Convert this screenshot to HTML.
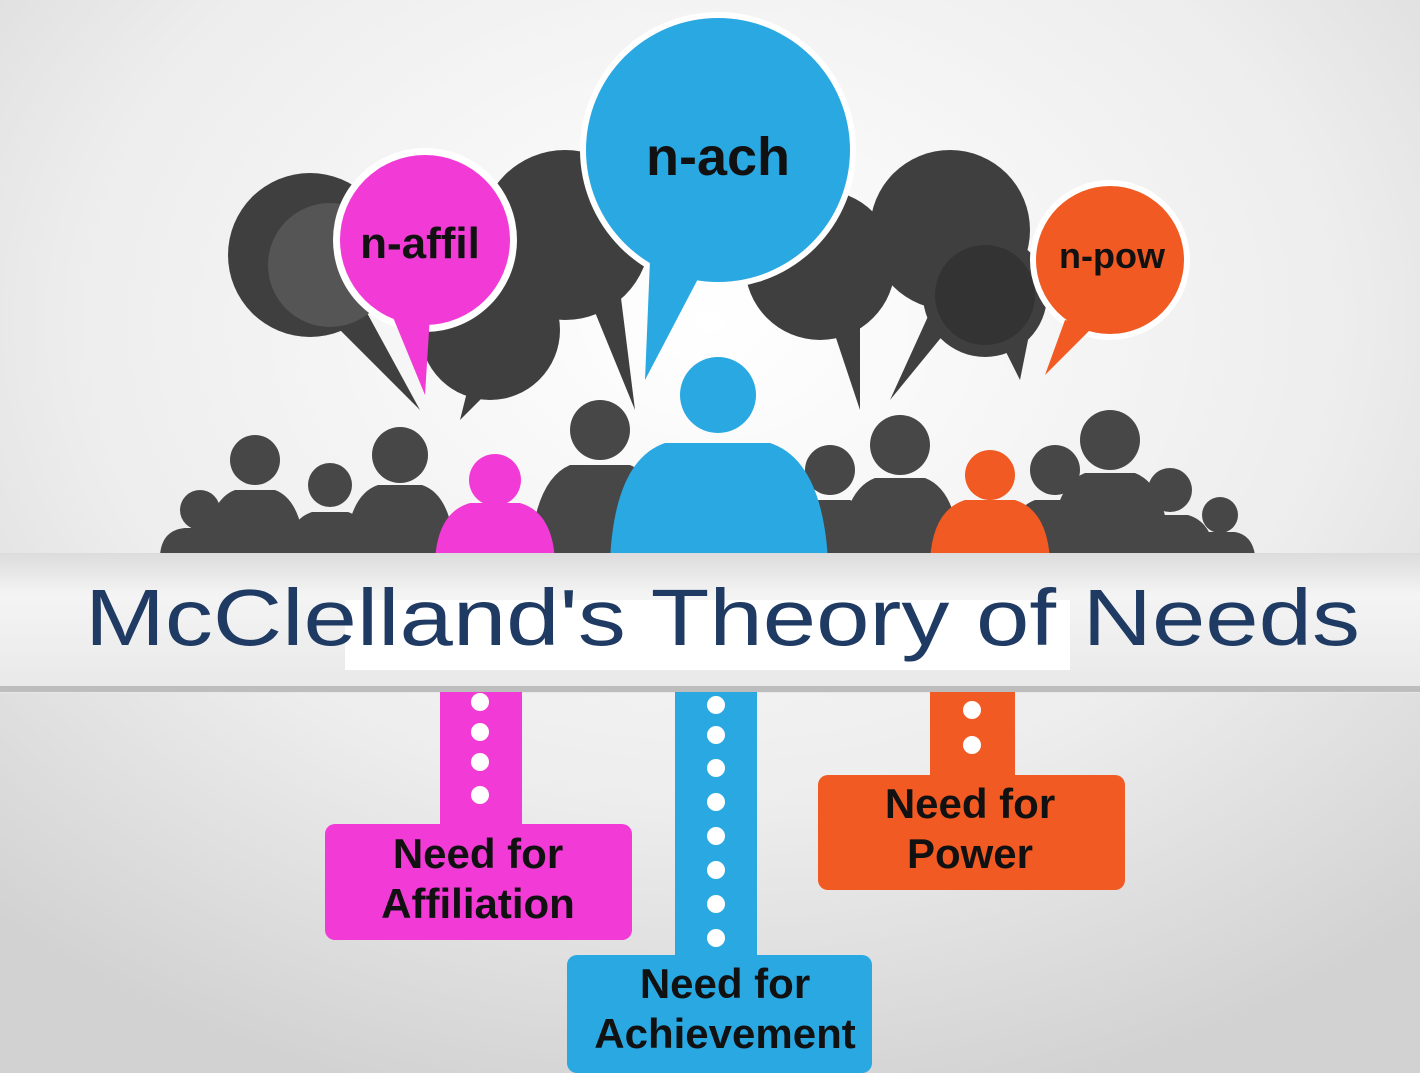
<!DOCTYPE html>
<html><head><meta charset="utf-8"><style>
html,body{margin:0;padding:0;width:1420px;height:1073px;overflow:hidden;}
svg{display:block}
text{font-family:"Liberation Sans",sans-serif;font-weight:bold}
</style></head><body>
<svg width="1420" height="1073" viewBox="0 0 1420 1073">
<defs>
<radialGradient id="bg" cx="50%" cy="30%" r="75%">
<stop offset="0" stop-color="#ffffff"/><stop offset="0.6" stop-color="#ededed"/><stop offset="1" stop-color="#d2d2d2"/>
</radialGradient>
<linearGradient id="ban" x1="0" y1="0" x2="0" y2="1">
<stop offset="0" stop-color="#dcdcdc"/><stop offset="0.3" stop-color="#f4f4f4"/><stop offset="1" stop-color="#e8e8e8"/>
</linearGradient>
</defs>
<rect width="1420" height="1073" fill="url(#bg)"/>
<g fill="#3f3f3f">
<circle cx="310" cy="255" r="82"/><polygon points="330,320 420,410 360,300"/>
<circle cx="490" cy="330" r="70"/><polygon points="470,380 460,420 500,380"/>
<circle cx="565" cy="235" r="85"/><polygon points="590,300 635,410 620,290"/>
<circle cx="820" cy="265" r="75"/><polygon points="830,320 860,410 860,310"/>
<circle cx="950" cy="230" r="80"/><polygon points="940,290 890,400 980,290"/>
<circle cx="985" cy="295" r="62"/><polygon points="1000,340 1020,380 1030,330"/>
</g>
<circle cx="330" cy="265" r="62" fill="#555"/>
<circle cx="985" cy="295" r="50" fill="#333"/>
<g>
<circle cx="425" cy="240" r="92" fill="#fff"/>
<circle cx="425" cy="240" r="85" fill="#f13ad6"/>
<polygon points="390,310 425,395 430,315" fill="#f13ad6"/>
<text x="420" y="258" font-size="44" text-anchor="middle" fill="#111">n-affil</text>
</g>
<g>
<circle cx="718" cy="150" r="138" fill="#fff"/>
<circle cx="718" cy="150" r="132" fill="#29a8e2"/>
<polygon points="650,260 645,380 700,275" fill="#29a8e2"/>
<text x="718" y="175" font-size="54" text-anchor="middle" fill="#111">n-ach</text>
</g>
<g>
<circle cx="1110" cy="260" r="80" fill="#fff"/>
<circle cx="1110" cy="260" r="74" fill="#f15a22"/>
<polygon points="1065,320 1045,375 1095,325" fill="#f15a22"/>
<text x="1112" y="268" font-size="36" text-anchor="middle" fill="#111">n-pow</text>
</g>
<g fill="#474747">
<circle cx="200" cy="510" r="20"/><path d="M160,555 Q162,530 185,528 L215,528 Q238,530 240,555Z"/>
<circle cx="255" cy="460" r="25"/><path d="M205,555 Q208,500 235,490 L275,490 Q302,500 305,555Z"/>
<circle cx="330" cy="485" r="22"/><path d="M285,555 Q288,520 312,512 L348,512 Q372,520 375,555Z"/>
<circle cx="400" cy="455" r="28"/><path d="M345,555 Q348,495 378,485 L422,485 Q452,495 455,555Z"/>
<circle cx="600" cy="430" r="30"/><path d="M530,555 Q535,480 570,465 L630,465 Q665,480 670,555Z"/>
<circle cx="830" cy="470" r="25"/><path d="M780,555 Q783,510 810,500 L850,500 Q877,510 880,555Z"/>
<circle cx="900" cy="445" r="30"/><path d="M840,555 Q843,490 875,478 L925,478 Q957,490 960,555Z"/>
<circle cx="1055" cy="470" r="25"/><path d="M1005,555 Q1008,510 1035,500 L1075,500 Q1102,510 1105,555Z"/>
<circle cx="1110" cy="440" r="30"/><path d="M1050,555 Q1053,485 1085,473 L1135,473 Q1167,485 1170,555Z"/>
<circle cx="1170" cy="490" r="22"/><path d="M1125,555 Q1128,522 1152,515 L1188,515 Q1212,522 1215,555Z"/>
<circle cx="1220" cy="515" r="18"/><path d="M1185,555 Q1188,535 1205,532 L1235,532 Q1252,535 1255,555Z"/>
</g>
<g>
<circle cx="495" cy="480" r="26" fill="#f13ad6"/><path d="M435,560 Q438,512 470,503 L520,503 Q552,512 555,560Z" fill="#f13ad6"/>
<circle cx="718" cy="395" r="38" fill="#29a8e2"/><path d="M610,560 Q615,460 665,443 L770,443 Q822,460 828,560Z" fill="#29a8e2"/>
<circle cx="990" cy="475" r="25" fill="#f15a22"/><path d="M930,560 Q933,510 965,500 L1015,500 Q1047,510 1050,560Z" fill="#f15a22"/>
</g>
<g>
<rect x="0" y="553" width="1420" height="140" fill="url(#ban)"/>
<rect x="0" y="686" width="1420" height="6" fill="#bdbdbd"/>
<rect x="345" y="600" width="725" height="70" fill="#fff"/>
<text x="85" y="645" font-size="80" textLength="1275" lengthAdjust="spacingAndGlyphs" fill="#1f3b63" style="font-weight:normal">McClelland's Theory of Needs</text>
</g>
<g>
<rect x="440" y="692" width="82" height="140" fill="#f13ad6"/>
<g fill="#fff"><circle cx="480" cy="702" r="9"/><circle cx="480" cy="732" r="9"/><circle cx="480" cy="762" r="9"/><circle cx="480" cy="795" r="9"/></g>
<rect x="325" y="824" width="307" height="116" rx="10" fill="#f13ad6"/>
<text x="478" y="868" font-size="42" text-anchor="middle" fill="#111">Need for</text>
<text x="478" y="918" font-size="42" text-anchor="middle" fill="#111">Affiliation</text>
</g>
<g>
<rect x="675" y="692" width="82" height="270" fill="#29a8e2"/>
<g fill="#fff"><circle cx="716" cy="705" r="9"/><circle cx="716" cy="735" r="9"/><circle cx="716" cy="768" r="9"/><circle cx="716" cy="802" r="9"/><circle cx="716" cy="836" r="9"/><circle cx="716" cy="870" r="9"/><circle cx="716" cy="904" r="9"/><circle cx="716" cy="938" r="9"/></g>
<rect x="567" y="955" width="305" height="118" rx="10" fill="#29a8e2"/>
<text x="725" y="998" font-size="42" text-anchor="middle" fill="#111">Need for</text>
<text x="725" y="1048" font-size="42" text-anchor="middle" fill="#111">Achievement</text>
</g>
<g>
<rect x="930" y="692" width="85" height="90" fill="#f15a22"/>
<g fill="#fff"><circle cx="972" cy="710" r="9"/><circle cx="972" cy="745" r="9"/></g>
<rect x="818" y="775" width="307" height="115" rx="10" fill="#f15a22"/>
<text x="970" y="818" font-size="42" text-anchor="middle" fill="#111">Need for</text>
<text x="970" y="868" font-size="42" text-anchor="middle" fill="#111">Power</text>
</g>
</svg>
</body></html>
